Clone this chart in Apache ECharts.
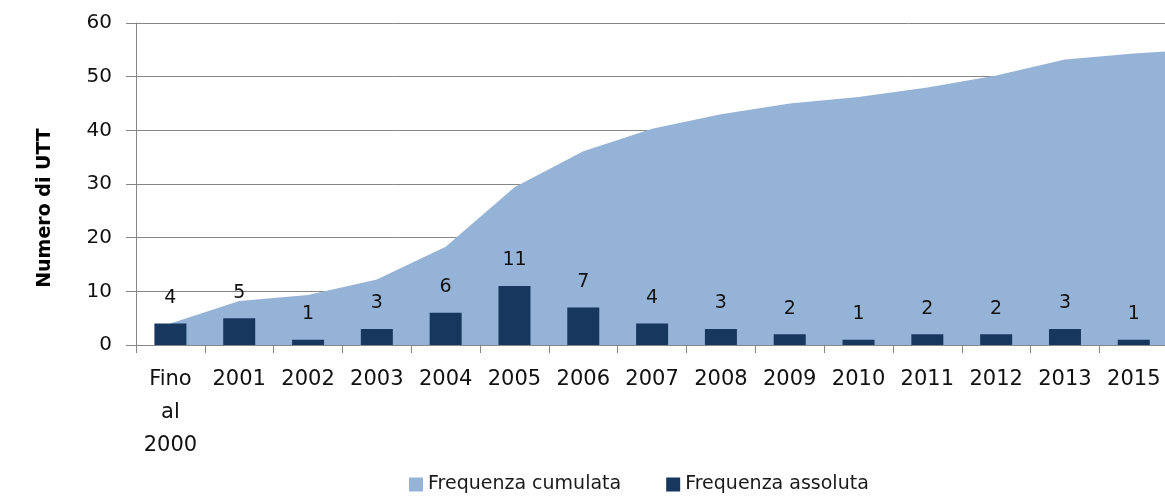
<!DOCTYPE html>
<html>
<head>
<meta charset="utf-8">
<script src="https://cdn.jsdelivr.net/npm/echarts@6/dist/echarts.min.js"></script>
<style>
  html, body { margin: 0; padding: 0; background: #fff; }
  #main { width: 1165px; height: 497px; }
</style>
</head>
<body>
<div id="main"></div>
<script>
// categorie (l'ultima è fuori dal bordo destro, serve solo per far proseguire l'area)
var anni = ['Fino\nal\n2000', '2001', '2002', '2003', '2004', '2005', '2006', '2007',
            '2008', '2009', '2010', '2011', '2012', '2013', '2015', ''];
var frequenzaAssoluta = [4, 5, 1, 3, 6, 11, 7, 4, 3, 2, 1, 2, 2, 3, 1, null];
var frequenzaCumulata = [4, 8.2, 9.3, 12.2, 18.3, 29.4, 36.1, 40.3, 43, 45, 46.2, 48, 50.2, 53.2, 54.3, 55.2];
var tickAsseY = [0, 10, 20, 30, 40, 50, 60];

var grigio = '#868686';
var font = 'DejaVu Sans';

var myChart = echarts.init(document.getElementById('main'));

var option = {
    animation: false,
    backgroundColor: '#fff',
    grid: {
        left: 136,
        top: 23,
        right: -72,
        height: 322,
        containLabel: false,
        outerBoundsMode: 'none'
    },
    legend: {
        left: 404,
        top: 470,
        icon: 'rect',
        itemWidth: 14,
        itemHeight: 14,
        itemGap: 45,
        textStyle: { fontFamily: font, fontSize: 19, color: '#1a1a1a' },
        data: ['Frequenza cumulata', 'Frequenza assoluta']
    },
    graphic: [{
        type: 'text',
        x: 45,
        y: 208,
        rotation: Math.PI / 2,
        style: {
            text: 'Numero di UTT',
            font: 'bold 19px ' + font,
            fill: '#000',
            align: 'center',
            verticalAlign: 'middle'
        }
    }],
    xAxis: {
        type: 'category',
        data: anni,
        boundaryGap: true,
        axisLine: { lineStyle: { color: grigio, width: 1 } },
        axisTick: { show: true, length: 8, lineStyle: { color: grigio } },
        axisLabel: {
            interval: 0,
            margin: 18,
            fontFamily: font,
            fontSize: 21,
            lineHeight: 33,
            color: '#111'
        }
    },
    yAxis: {
        type: 'value',
        min: tickAsseY[0],
        max: tickAsseY[tickAsseY.length - 1],
        interval: 10,
        axisLine: { show: true, lineStyle: { color: grigio, width: 1 } },
        axisTick: { show: true, length: 10, lineStyle: { color: grigio } },
        splitLine: { lineStyle: { color: grigio, width: 1 } },
        axisLabel: {
            margin: 24,
            fontFamily: font,
            fontSize: 20,
            color: '#111'
        }
    },
    series: [{
        name: 'Frequenza cumulata',
        type: 'line',
        data: frequenzaCumulata,
        color: '#95b3d7',
        symbol: 'none',
        smooth: false,
        z: 1,
        lineStyle: { width: 0 },
        areaStyle: { color: '#95b3d7', opacity: 1 }
    }, {
        name: 'Frequenza assoluta',
        type: 'bar',
        data: frequenzaAssoluta,
        barWidth: 32,
        z: 5,
        color: '#17375e',
        itemStyle: { color: '#17375e' },
        label: {
            show: true,
            position: 'top',
            distance: 16,
            fontFamily: font,
            fontSize: 19,
            color: '#111'
        }
    }]
};

myChart.setOption(option);
</script>
</body>
</html>
